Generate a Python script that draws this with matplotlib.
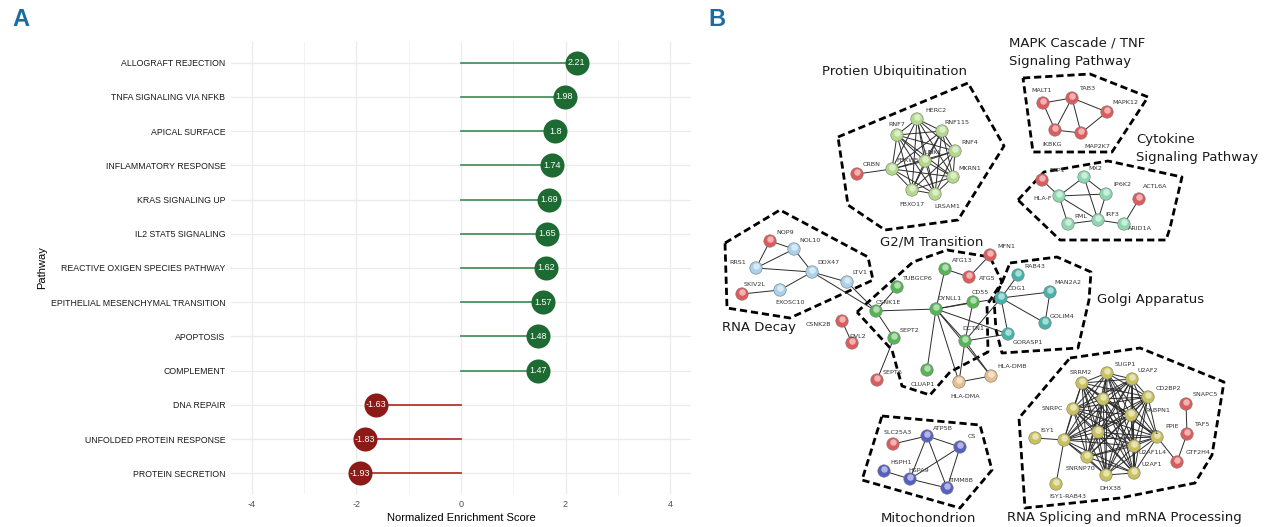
import numpy as np
import matplotlib.pyplot as plt
from itertools import combinations

# ---- Panel A data ----
pathways = ['ALLOGRAFT REJECTION', 'TNFA SIGNALING VIA NFKB', 'APICAL SURFACE',
            'INFLAMMATORY RESPONSE', 'KRAS SIGNALING UP', 'IL2 STAT5 SIGNALING',
            'REACTIVE OXIGEN SPECIES PATHWAY', 'EPITHELIAL MESENCHYMAL TRANSITION',
            'APOPTOSIS', 'COMPLEMENT', 'DNA REPAIR', 'UNFOLDED PROTEIN RESPONSE',
            'PROTEIN SECRETION']
nes = [2.21, 1.98, 1.8, 1.74, 1.69, 1.65, 1.62, 1.57, 1.48, 1.47, -1.63, -1.83, -1.93]

# ---- Panel B data (network, picture pixel coordinates) ----
# name: (x, y, group, label_x, label_y)
nodes = {
    # protein ubiquitination
    'HERC2': (917, 119, 'lgreen', 936, 111), 'RNF7': (897, 135, 'lgreen', 897, 124),
    'RNF115': (942, 131, 'lgreen', 957, 122), 'RNF4': (955, 151, 'lgreen', 970, 142),
    'MKRN1': (953, 177, 'lgreen', 970, 168), 'LRSAM1': (935, 194, 'lgreen', 947, 206),
    'FBXO17': (912, 190, 'lgreen', 912, 204), 'FBXW5': (892, 169, 'lgreen', 908, 160),
    'UNKL': (925, 161, 'lgreen', 933, 152), 'CRBN': (857, 174, 'red', 872, 165),
    # MAPK / TNF
    'MALT1': (1043, 103, 'red', 1042, 91), 'TAB3': (1072, 98, 'red', 1087, 89),
    'MAPK12': (1107, 112, 'red', 1125, 103), 'IKBKG': (1055, 130, 'red', 1052, 145),
    'MAP2K7': (1081, 133, 'red', 1097, 147),
    # cytokine signaling
    'TAP1': (1042, 180, 'red', 1057, 170), 'MX2': (1084, 177, 'mint', 1095, 168),
    'IP6K2': (1106, 194, 'mint', 1122, 185), 'HLA-F': (1059, 196, 'mint', 1043, 198),
    'ACTL6A': (1139, 199, 'red', 1155, 187), 'PML': (1068, 224, 'mint', 1081, 216),
    'IRF3': (1098, 220, 'mint', 1112, 214), 'ARID1A': (1124, 224, 'mint', 1140, 229),
    # RNA decay
    'NOP9': (770, 241, 'red', 785, 232), 'NOL10': (794, 249, 'lblue', 810, 240),
    'RRS1': (756, 268, 'lblue', 738, 263), 'DDX47': (812, 272, 'lblue', 828, 262),
    'LTV1': (847, 282, 'lblue', 860, 273), 'SKIV2L': (742, 294, 'red', 755, 285),
    'EXOSC10': (780, 290, 'lblue', 790, 303),
    # G2/M transition
    'CSNK2B': (842, 321, 'red', 818, 325), 'DVL2': (852, 343, 'red', 858, 336),
    'CSNK1E': (876, 311, 'green', 888, 303), 'TUBGCP6': (897, 287, 'green', 917, 278),
    'SEPT2': (894, 338, 'green', 910, 330), 'SEPT6': (877, 380, 'red', 893, 372),
    'CLUAP1': (927, 370, 'green', 923, 385), 'DYNLL1': (936, 309, 'green', 950, 299),
    'ATG13': (945, 269, 'green', 962, 261), 'ATG5': (969, 277, 'red', 987, 279),
    'MFN1': (990, 255, 'red', 1006, 247), 'CD55': (973, 302, 'green', 980, 292),
    'DCTN1': (965, 341, 'green', 973, 328), 'HLA-DMA': (959, 382, 'tan', 965, 397),
    'HLA-DMB': (991, 376, 'tan', 1012, 367),
    # golgi apparatus
    'RAB43': (1018, 275, 'teal', 1035, 267), 'COG1': (1001, 298, 'teal', 1017, 289),
    'MAN2A2': (1050, 292, 'teal', 1068, 283), 'GOLIM4': (1045, 323, 'teal', 1062, 316),
    'GORASP1': (1008, 334, 'teal', 1028, 343),
    # mitochondrion
    'SLC25A3': (893, 444, 'red', 898, 433), 'ATP5B': (927, 436, 'blue', 943, 429),
    'CS': (960, 447, 'blue', 972, 437), 'HSPH1': (884, 471, 'blue', 901, 462),
    'HSPA9': (910, 479, 'blue', 919, 471), 'TIMM8B': (947, 488, 'blue', 961, 480),
    # RNA splicing
    'SUGP1': (1107, 373, 'olive', 1125, 364), 'U2AF2': (1132, 379, 'olive', 1148, 370),
    'SRRM2': (1082, 383, 'olive', 1081, 373), 'CD2BP2': (1148, 397, 'olive', 1168, 388),
    'SNRPC': (1073, 409, 'olive', 1052, 408), 'SNRPB': (1103, 399, 'olive', 1112, 390),
    'PABPN1': (1131, 415, 'olive', 1158, 410), 'SF1': (1157, 437, 'olive', 1153, 433),
    'PRPF8': (1064, 440, 'olive', None, None), 'SNRPA': (1098, 432, 'olive', None, None),
    'U2AF1L4': (1134, 446, 'olive', 1153, 453), 'SNRNP70': (1087, 457, 'olive', 1081, 468),
    'U2AF1': (1134, 473, 'olive', 1152, 464), 'DHX38': (1106, 475, 'olive', 1110, 488),
    'ISY1': (1035, 438, 'olive', 1047, 430), 'ISY1-RAB43': (1056, 484, 'olive', 1068, 496),
    'SNAPC5': (1186, 404, 'red', 1205, 395), 'TAF5': (1187, 434, 'red', 1202, 425),
    'GTF2H4': (1177, 462, 'red', 1198, 453),
}
extra_labels = [('PPIE', 1172, 427)]

ubiq_core = ['HERC2', 'RNF7', 'RNF115', 'RNF4', 'MKRN1', 'LRSAM1', 'FBXO17', 'FBXW5', 'UNKL']
splice_core = ['SUGP1', 'U2AF2', 'SRRM2', 'CD2BP2', 'SNRPC', 'SNRPB', 'PABPN1', 'SF1',
               'PRPF8', 'SNRPA', 'U2AF1L4', 'SNRNP70', 'U2AF1', 'DHX38']
edges = [
    ('CRBN', 'FBXW5'),
    ('MALT1', 'TAB3'), ('MALT1', 'IKBKG'), ('TAB3', 'IKBKG'), ('TAB3', 'MAP2K7'),
    ('TAB3', 'MAPK12'), ('MAPK12', 'MAP2K7'), ('IKBKG', 'MAP2K7'),
    ('TAP1', 'HLA-F'), ('HLA-F', 'MX2'), ('HLA-F', 'IP6K2'), ('HLA-F', 'IRF3'),
    ('HLA-F', 'PML'), ('MX2', 'IP6K2'), ('MX2', 'IRF3'), ('IP6K2', 'IRF3'),
    ('PML', 'IRF3'), ('IRF3', 'ARID1A'), ('ARID1A', 'ACTL6A'),
    ('NOP9', 'NOL10'), ('NOP9', 'RRS1'), ('RRS1', 'NOL10'), ('RRS1', 'DDX47'),
    ('NOL10', 'DDX47'), ('DDX47', 'EXOSC10'), ('DDX47', 'LTV1'), ('SKIV2L', 'EXOSC10'),
    ('DDX47', 'CSNK1E'), ('LTV1', 'CSNK1E'),
    ('CSNK2B', 'DVL2'), ('CSNK1E', 'TUBGCP6'), ('CSNK1E', 'DYNLL1'), ('CSNK1E', 'SEPT2'),
    ('SEPT2', 'SEPT6'), ('DYNLL1', 'ATG13'), ('ATG13', 'ATG5'), ('ATG5', 'MFN1'),
    ('DYNLL1', 'CD55'), ('DYNLL1', 'DCTN1'), ('DYNLL1', 'CLUAP1'), ('DYNLL1', 'HLA-DMA'),
    ('DYNLL1', 'HLA-DMB'), ('DYNLL1', 'GORASP1'), ('DYNLL1', 'COG1'), ('CD55', 'DCTN1'),
    ('DCTN1', 'HLA-DMA'), ('DCTN1', 'HLA-DMB'), ('HLA-DMA', 'HLA-DMB'),
    ('DCTN1', 'GORASP1'), ('DCTN1', 'COG1'),
    ('COG1', 'RAB43'), ('COG1', 'MAN2A2'), ('COG1', 'GORASP1'), ('COG1', 'GOLIM4'),
    ('MAN2A2', 'GOLIM4'),
    ('SLC25A3', 'ATP5B'), ('ATP5B', 'CS'), ('ATP5B', 'HSPA9'), ('ATP5B', 'TIMM8B'),
    ('CS', 'HSPA9'), ('CS', 'TIMM8B'), ('HSPH1', 'HSPA9'), ('HSPA9', 'TIMM8B'),
    ('ISY1', 'PRPF8'), ('PRPF8', 'ISY1-RAB43'), ('SF1', 'GTF2H4'),
    ('SNAPC5', 'TAF5'), ('TAF5', 'GTF2H4'),
]
edges += list(combinations(ubiq_core, 2)) + list(combinations(splice_core, 2))

clusters = {
    'Protien Ubiquitination': [(838, 137), (968, 83), (1004, 146), (958, 220), (885, 230), (848, 205)],
    'MAPK': [(1023, 78), (1090, 74), (1148, 97), (1112, 152), (1033, 152)],
    'Cytokine': [(1018, 200), (1044, 172), (1108, 161), (1182, 177), (1170, 228), (1166, 240), (1060, 240)],
    'RNA Decay': [(725, 243), (780, 210), (868, 257), (873, 280), (790, 318), (727, 308)],
    'G2/M': [(857, 312), (913, 262), (947, 250), (990, 257), (1002, 282), (987, 305),
             (988, 352), (950, 372), (930, 395), (902, 386), (892, 350)],
    'Golgi': [(1010, 263), (1057, 257), (1091, 272), (1089, 300), (1078, 348), (1002, 353),
              (996, 330), (994, 300), (1003, 280)],
    'Splicing': [(1070, 358), (1140, 348), (1224, 382), (1212, 455), (1195, 483), (1120, 498),
                 (1025, 508), (1019, 418)],
    'Mito': [(882, 416), (980, 425), (992, 470), (960, 508), (862, 480)],
}
titles = [('Protien Ubiquitination', 822, 72), ('MAPK Cascade / TNF', 1009, 43),
          ('Signaling Pathway', 1009, 61), ('Cytokine', 1136, 139),
          ('Signaling Pathway', 1136, 158), ('G2/M Transition', 880, 242),
          ('RNA Decay', 722, 327), ('Golgi Apparatus', 1097, 299),
          ('Mitochondrion', 881, 518), ('RNA Splicing and mRNA Processing', 1007, 518)]

group_colors = {'red': '#de5b5b', 'lgreen': '#b3d98a', 'mint': '#8ed8b0', 'lblue': '#a9d1ec',
                'green': '#55b555', 'teal': '#45b3aa', 'tan': '#e6bd8f', 'olive': '#c9c25c',
                'blue': '#5660c0'}

sans = ['Liberation Sans', 'DejaVu Sans']

fig = plt.figure(figsize=(12.68, 5.27), dpi=100)

# ---------------- Panel A ----------------
W, H = 1268, 527
ax = fig.add_axes([231 / W, 1 - 494 / H, 460 / W, 452 / H])
ypos = np.arange(len(pathways))
for y, v in zip(ypos, nes):
    pos = v > 0
    ax.plot([0, v], [y, y], color='#4d9160' if pos else '#b8352f', lw=1.3, zorder=2)
    ax.scatter(v, y, s=300, color='#1d6a32' if pos else '#8c1a16', zorder=3, linewidths=0)
    ax.text(v, y, str(v), color='white', ha='center', va='center', fontsize=6.5,
            family=sans, zorder=4)
ax.set_xlim(-4.4, 4.4)
ax.set_ylim(len(pathways) - 0.4, -0.6)
ax.set_xticks([-4, -2, 0, 2, 4])
ax.set_xticks([-3, -1, 1, 3], minor=True)
ax.set_xticklabels(['-4', '-2', '0', '2', '4'], family=sans, fontsize=6.5, color='#4d4d4d')
ax.set_yticks(ypos)
ax.set_yticklabels(pathways, family=sans, fontsize=6.3, color='#1a1a1a')
ax.tick_params(which='both', length=0, pad=4)
ax.grid(True, which='major', color='#ebebeb', lw=0.9)
ax.grid(True, which='minor', axis='x', color='#f2f2f2', lw=0.7)
ax.set_axisbelow(True)
for s in ax.spines.values():
    s.set_visible(False)
ax.set_xlabel('Normalized Enrichment Score', family=sans, fontsize=8, labelpad=3)
fig.text(42 / W, 1 - 268 / H, 'Pathway', rotation=90, ha='center', va='center',
         family=sans, fontsize=8)

fig.text(12 / W, 1 - 20 / H, 'A', family=sans, fontsize=17, fontweight='bold',
         color='#1c6d9c', va='center', ha='left')
fig.text(708 / W, 1 - 20 / H, 'B', family=sans, fontsize=17, fontweight='bold',
         color='#1c6d9c', va='center', ha='left')

# ---------------- Panel B ----------------
bx = fig.add_axes([700 / W, 0, 568 / W, 1])
bx.set_xlim(700, 1268)
bx.set_ylim(527, 0)
bx.axis('off')

for pts in clusters.values():
    xs = [p[0] for p in pts] + [pts[0][0]]
    ys = [p[1] for p in pts] + [pts[0][1]]
    bx.plot(xs, ys, color='black', lw=2.0, ls=(0, (2.6, 1.4)), zorder=1)

for a, b in edges:
    bx.plot([nodes[a][0], nodes[b][0]], [nodes[a][1], nodes[b][1]],
            color='#2b2b2b', lw=0.7, zorder=2)

nx = [v[0] for v in nodes.values()]
ny = [v[1] for v in nodes.values()]
nc = [group_colors[v[2]] for v in nodes.values()]
bx.scatter(nx, ny, s=80, c=nc, edgecolors='#777777', linewidths=0.4, zorder=3)
bx.scatter(nx, np.array(ny) - 2.5, s=22, c='white', alpha=0.55, linewidths=0, zorder=4)

for name, v in nodes.items():
    if v[3] is not None:
        bx.text(v[3], v[4], name, fontsize=4.6, color='#333333', ha='center', va='center',
                zorder=5)
for t, x, y in extra_labels:
    bx.text(x, y, t, fontsize=4.6, color='#333333', ha='center', va='center', zorder=5)

for t, x, y in titles:
    bx.text(x, y, t, fontsize=9.5, color='#1a1a1a', ha='left', va='center', zorder=6)

fig.savefig('out.png', dpi=100)
